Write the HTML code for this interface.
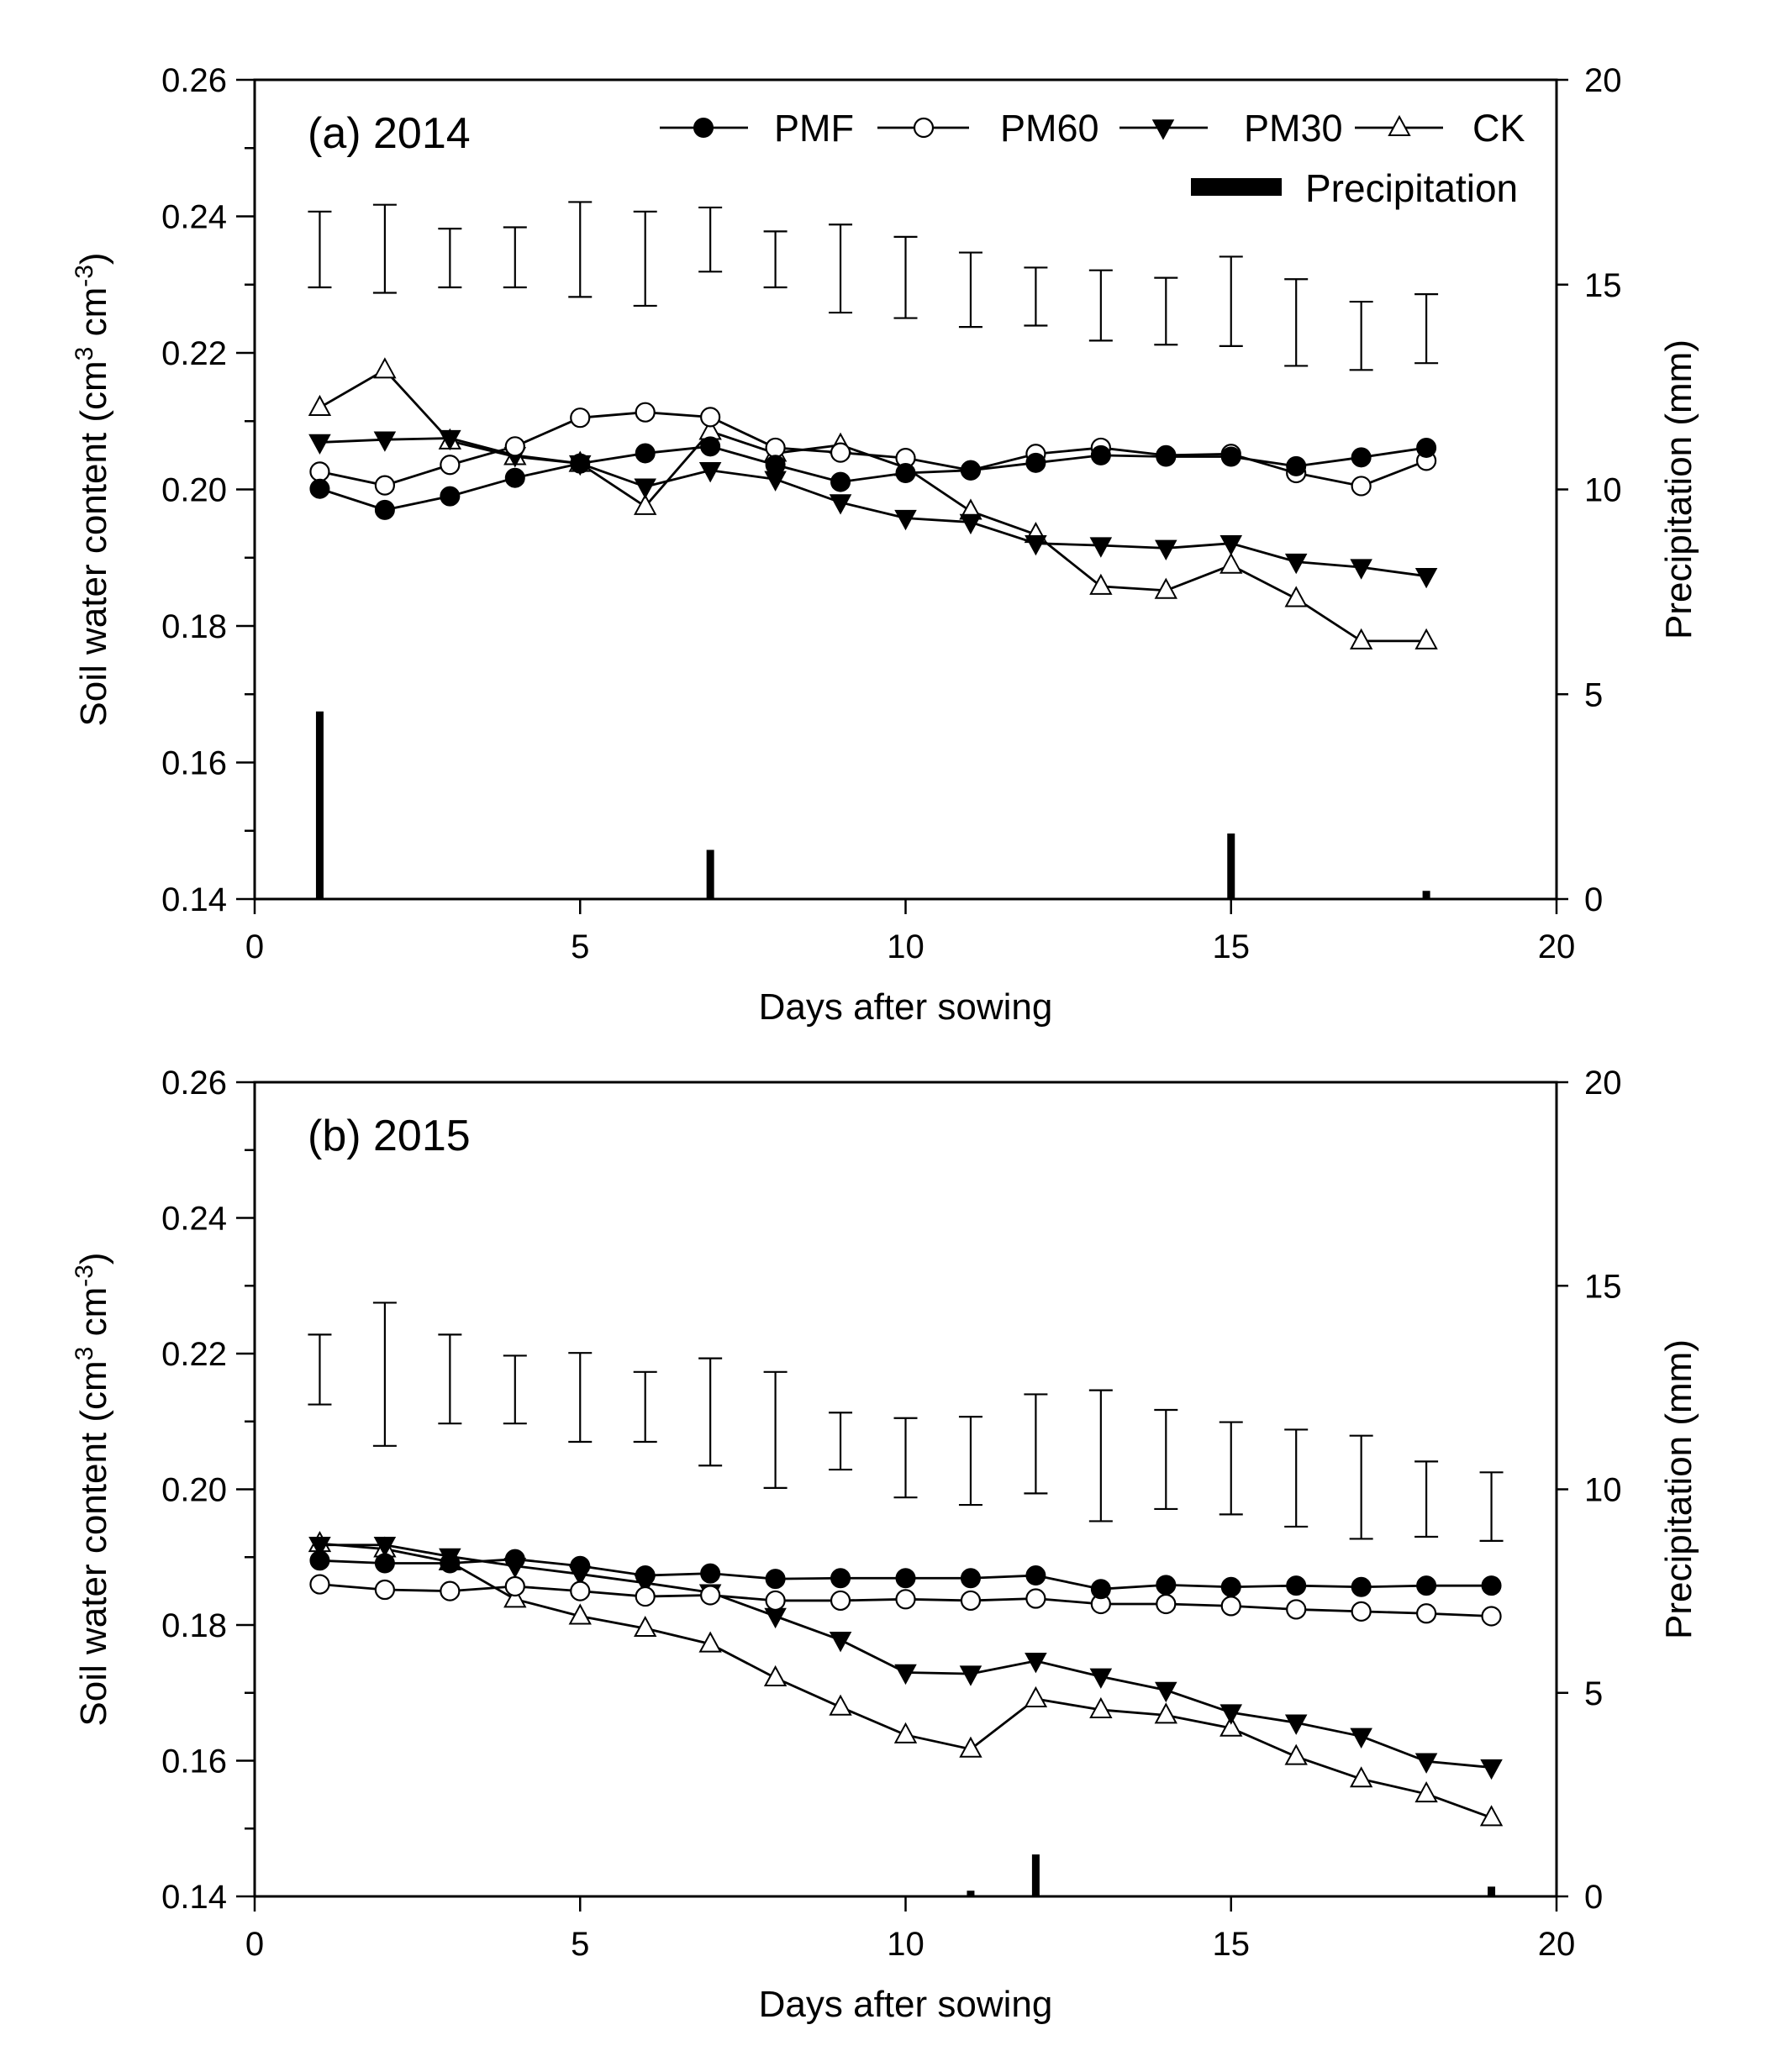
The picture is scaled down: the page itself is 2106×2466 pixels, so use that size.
<!DOCTYPE html>
<html><head><meta charset="utf-8"><style>
html,body{margin:0;padding:0;background:#fff;}
svg{display:block;font-family:"Liberation Sans",Arial,sans-serif;}
</style></head><body>
<svg id="chart" width="2106" height="2466" viewBox="0 0 2106 2466" xmlns="http://www.w3.org/2000/svg"></svg>
<script>
const days2014 = [1,2,3,4,5,6,7,8,9,10,11,12,13,14,15,16,17,18];
const pmf2014 = [0.2001,0.1970,0.1990,0.2017,0.2038,0.2053,0.2063,0.2036,0.2011,0.2024,0.2028,0.2039,0.2050,0.2048,0.2048,0.2034,0.2047,0.2061];
const pm60_2014 = [0.2026,0.2006,0.2036,0.2063,0.2105,0.2113,0.2106,0.2061,0.2054,0.2046,0.2028,0.2052,0.2061,0.2050,0.2052,0.2024,0.2005,0.2042];
const pm30_2014 = [0.2069,0.2073,0.2075,0.2050,0.2038,0.2004,0.2028,0.2015,0.1981,0.1958,0.1952,0.1921,0.1918,0.1914,0.1921,0.1894,0.1886,0.1873];
const ck2014 = [0.2120,0.2175,0.2071,0.2048,0.2038,0.1975,0.2085,0.2053,0.2065,0.2032,0.1968,0.1934,0.1858,0.1852,0.1889,0.1840,0.1778,0.1778];
const errHi2014 = [0.2407,0.2417,0.2382,0.2384,0.2421,0.2407,0.2413,0.2378,0.2388,0.2370,0.2347,0.2325,0.2321,0.2310,0.2341,0.2308,0.2275,0.2286];
const errLo2014 = [0.2296,0.2288,0.2296,0.2296,0.2282,0.2269,0.2319,0.2296,0.2259,0.2251,0.2238,0.2240,0.2218,0.2212,0.2210,0.2181,0.2175,0.2185];
const rainDays2014 = [1,7,15,18];
const rain2014 = [4.58,1.2,1.6,0.2];

const days2015 = [1,2,3,4,5,6,7,8,9,10,11,12,13,14,15,16,17,18,19];
const pmf2015 = [0.1895,0.1891,0.1891,0.1897,0.1887,0.1873,0.1876,0.1868,0.1869,0.1869,0.1869,0.1873,0.1853,0.1859,0.1856,0.1858,0.1856,0.1858,0.1858];
const pm60_2015 = [0.1860,0.1852,0.1850,0.1857,0.1850,0.1842,0.1844,0.1836,0.1836,0.1838,0.1836,0.1839,0.1831,0.1831,0.1828,0.1823,0.1820,0.1817,0.1813];
const pm30_2015 = [0.1918,0.1918,0.1901,0.1887,0.1875,0.1862,0.1848,0.1813,0.1778,0.1730,0.1728,0.1747,0.1724,0.1704,0.1671,0.1656,0.1636,0.1599,0.1590];
const ck2015 = [0.1920,0.1912,0.1893,0.1838,0.1813,0.1795,0.1772,0.1722,0.1679,0.1638,0.1617,0.1691,0.1675,0.1667,0.1648,0.1606,0.1573,0.1551,0.1516];
const errHi2015 = [0.2228,0.2275,0.2228,0.2197,0.2201,0.2173,0.2193,0.2173,0.2113,0.2105,0.2107,0.2140,0.2146,0.2117,0.2099,0.2088,0.2079,0.2041,0.2025];
const errLo2015 = [0.2125,0.2064,0.2097,0.2097,0.2070,0.2070,0.2035,0.2002,0.2029,0.1988,0.1977,0.1994,0.1953,0.1971,0.1963,0.1945,0.1927,0.1930,0.1924];
const rainDays2015 = [11,12,19];
const rain2015 = [0.14,1.03,0.24];

const leftTicks = ["0.14","0.16","0.18","0.20","0.22","0.24","0.26"];
const rightTicks = ["0","5","10","15","20"];
const xTicks = ["0","5","10","15","20"];

const NS = "http://www.w3.org/2000/svg";
const svg = document.getElementById("chart");
function mk(tag, attrs, parent, text){
  const e = document.createElementNS(NS, tag);
  for (const k in attrs) e.setAttribute(k, attrs[k]);
  if (text !== undefined) e.textContent = text;
  (parent||svg).appendChild(e);
  return e;
}
const X0 = 303, X1 = 1852;

function panel(cfg){
  const g = mk("g", {});
  
  
  const top = cfg.top, bot = cfg.bot;
  const xs = d => X0 + (X1 - X0) * d / 20;
  const ys = v => bot - (bot - top) * (v - 0.14) / 0.12;
  const yr = p => bot - (bot - top) * p / 20;
  const frame = mk("rect", {x:X0, y:top, width:X1-X0, height:bot-top, fill:"none", stroke:"#000", "stroke-width":3}, g);
  
  
  for (let i = 0; i <= 12; i++) {
    const y = ys(0.14 + i*0.01);
    const len = i % 2 === 0 ? 22 : 12;
    mk("line", {x1:X0-len, y1:y, x2:X0, y2:y, stroke:"#000", "stroke-width":2.5}, g);
  }
  leftTicks.forEach(t => {
    const lab = mk("text", {x:270, y:ys(parseFloat(t))+14, "text-anchor":"end", "font-size":40}, g, t);
    
    
  });
  rightTicks.forEach(t => {
    const y = yr(parseFloat(t));
    mk("line", {x1:X1, y1:y, x2:X1+14, y2:y, stroke:"#000", "stroke-width":2.5}, g);
    const lab = mk("text", {x:1885, y:y+14, "font-size":40}, g, t);
    
    
  });
  xTicks.forEach(t => {
    const x = xs(parseFloat(t));
    mk("line", {x1:x, y1:bot, x2:x, y2:bot+18, stroke:"#000", "stroke-width":2.5}, g);
    const lab = mk("text", {x:x, y:bot+70, "text-anchor":"middle", "font-size":40}, g, t);
    
    
  });
  const xt = mk("text", {x:(X0+X1)/2, y:bot+143, "text-anchor":"middle", "font-size":44}, g, "Days after sowing");
  
  
  const cy = (top+bot)/2;
  const yt = mk("text", {x:0, y:0, "text-anchor":"middle", "font-size":44, transform:`translate(126,${cy}) rotate(-90)`}, g);
  
  
  yt.innerHTML = 'Soil water content (cm<tspan dy="-16" font-size="30">3</tspan><tspan dy="16"> cm</tspan><tspan dy="-16" font-size="30">-3</tspan><tspan dy="16">)</tspan>';
  const y2t = mk("text", {x:0, y:0, "text-anchor":"middle", "font-size":44, transform:`translate(2012,${cy}) rotate(-90)`}, g, "Precipitation (mm)");
  
  
  const pl = mk("text", {x:366, y:top+81, "font-size":52}, g, cfg.label);
  
  
  cfg.rainDays.forEach((d,i) => {
    const y = yr(cfg.rain[i]);
    const b = mk("rect", {x:xs(d)-4.5, y:y, width:9, height:bot-y, fill:"#000"}, g);
    
    
  });
  cfg.days.forEach((d,i) => {
    const x = xs(d), y1 = ys(cfg.hi[i]), y2 = ys(cfg.lo[i]);
    const eg = mk("g", {stroke:"#000", "stroke-width":2.2}, g);
    
    
    mk("line", {x1:x, y1:y1, x2:x, y2:y2}, eg);
    mk("line", {x1:x-14, y1:y1, x2:x+14, y2:y1}, eg);
    mk("line", {x1:x-14, y1:y2, x2:x+14, y2:y2}, eg);
  });
  cfg.series.forEach(s => {
    const pts = cfg.days.map((d,i) => xs(d)+","+ys(s.vals[i])).join(" ");
    const line = mk("polyline", {points:pts, fill:"none", stroke:"#000", "stroke-width":2.8}, g);
    
    
    cfg.days.forEach((d,i) => {
      const m = marker(s.type, xs(d), ys(s.vals[i]), g);
      
      
    });
  });
}
function marker(type, x, y, g){
  if (type === "fc") return mk("circle", {cx:x, cy:y, r:11, fill:"#000", stroke:"#000", "stroke-width":2}, g);
  if (type === "oc") return mk("circle", {cx:x, cy:y, r:11, fill:"#fff", stroke:"#000", "stroke-width":2.2}, g);
  if (type === "dt") return mk("polygon", {points:`${x-12},${y-9} ${x+12},${y-9} ${x},${y+13}`, fill:"#000", stroke:"#000", "stroke-width":1.5}, g);
  return mk("polygon", {points:`${x-12},${y+9} ${x+12},${y+9} ${x},${y-13}`, fill:"#fff", stroke:"#000", "stroke-width":2}, g);
}

panel({name:"panel-2014", top:95, bot:1070, label:"(a) 2014", days:days2014, hi:errHi2014, lo:errLo2014,
  rainDays:rainDays2014, rain:rain2014,
  series:[{key:"ck",type:"ut",vals:ck2014},{key:"pm30",type:"dt",vals:pm30_2014},{key:"pm60",type:"oc",vals:pm60_2014},{key:"pmf",type:"fc",vals:pmf2014}]});
panel({name:"panel-2015", top:1288, bot:2257, label:"(b) 2015", days:days2015, hi:errHi2015, lo:errLo2015,
  rainDays:rainDays2015, rain:rain2015,
  series:[{key:"ck",type:"ut",vals:ck2015},{key:"pm30",type:"dt",vals:pm30_2015},{key:"pm60",type:"oc",vals:pm60_2015},{key:"pmf",type:"fc",vals:pmf2015}]});

const lg = mk("g", {});


const legItems = [["PMF","fc",785,890,837,921],["PM60","oc",1044,1153,1099,1190],["PM30","dt",1332,1437,1384,1480],["CK","ut",1612,1717,1665,1752]];
legItems.forEach(it => {
  const eg = mk("g", {}, lg);
  
  
  mk("line", {x1:it[2], y1:152, x2:it[3], y2:152, stroke:"#000", "stroke-width":2.8}, eg);
  marker(it[1], it[4], 152, eg);
  mk("text", {x:it[5], y:168, "font-size":45}, eg, it[0]);
});
const pe = mk("g", {}, lg);


mk("rect", {x:1417, y:212, width:108, height:21, fill:"#000"}, pe);
mk("text", {x:1553, y:240, "font-size":46}, pe, "Precipitation");
</script>
</body></html>
